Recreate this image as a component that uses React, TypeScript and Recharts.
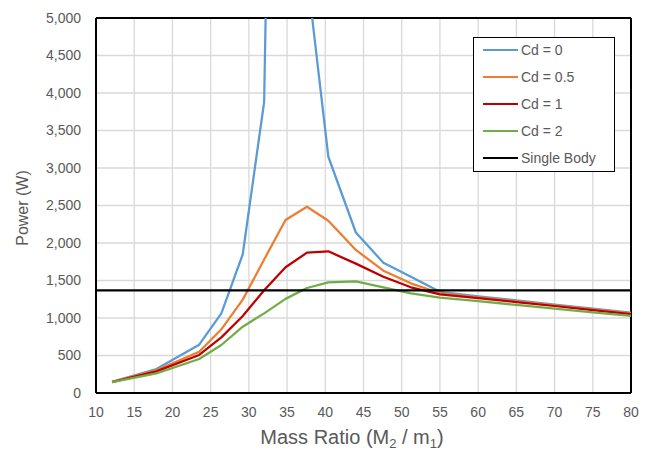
import React from 'react';
import { LineChart, Line, XAxis, YAxis, CartesianGrid, Legend, ReferenceLine } from 'recharts';

// Mass ratio (M2 / m1) sample points
const massRatio = [12.1, 17.9, 23.5, 26.4, 29.2, 32.0, 34.8, 37.6, 40.4, 44.0, 47.6, 51.2, 55, 60, 65, 70, 75, 80];
// Power (W) per drag coefficient
const cd0 = [150, 320, 644, 1062, 1850, 3880, 20000, 5600, 3150, 2140, 1737, 1551, 1350, 1290, 1235, 1180, 1125, 1070];
const cd05 = [148, 302, 551, 849, 1245, 1780, 2307, 2484, 2297, 1907, 1631, 1462, 1330, 1275, 1222, 1170, 1115, 1060];
const cd1 = [146, 289, 507, 742, 1027, 1370, 1676, 1871, 1889, 1725, 1551, 1409, 1316, 1265, 1212, 1160, 1105, 1052];
const cd2 = [144, 262, 453, 640, 884, 1062, 1255, 1400, 1476, 1489, 1409, 1329, 1271, 1225, 1175, 1125, 1075, 1027];
// Single body reference
const singleBodyX = [10, 80];
const singleBodyPower = 1370;

const xTicks = [10, 15, 20, 25, 30, 35, 40, 45, 50, 55, 60, 65, 70, 75, 80];
const yTicks = [0, 500, 1000, 1500, 2000, 2500, 3000, 3500, 4000, 4500, 5000];

const table = massRatio.map((m, i) => ({ m, cd0: cd0[i], cd05: cd05[i], cd1: cd1[i], cd2: cd2[i] }));
const singleData = singleBodyX.map((m) => ({ m, single: singleBodyPower }));

const FONT = '"Liberation Sans", Arial, sans-serif';
const TEXT = '#595959';

function LegendBox(props: any) {
  const payload = props.payload || [];
  return (
    <div
      style={{
        width: 142,
        height: 135,
        border: '1px solid #000',
        background: '#fff',
        boxSizing: 'border-box',
        position: 'relative',
        fontFamily: FONT,
      }}
    >
      {payload.map((p: any, i: number) => (
        <div
          key={i}
          style={{
            position: 'absolute',
            left: 9,
            top: 12 + 27 * i - 9,
            height: 18,
            display: 'flex',
            alignItems: 'center',
            whiteSpace: 'nowrap',
          }}
        >
          <div style={{ width: 35, height: 2, background: p.color }} />
          <span style={{ marginLeft: 3, fontSize: 14, color: TEXT }}>{p.value}</span>
        </div>
      ))}
    </div>
  );
}

const XTitle = () => (
  <text x={352} y={444} textAnchor="middle" fontSize={20} fill={TEXT} fontFamily={FONT}>
    Mass Ratio (M
    <tspan dy={4} fontSize={13}>2</tspan>
    <tspan dy={-4}> / m</tspan>
    <tspan dy={4} fontSize={13}>1</tspan>
    <tspan dy={-4}>)</tspan>
  </text>
);

const YTitle = () => (
  <text
    x={22}
    y={208}
    transform="rotate(-90 22 208)"
    textAnchor="middle"
    dominantBaseline="central"
    fontSize={16}
    fill={TEXT}
    fontFamily={FONT}
  >
    Power (W)
  </text>
);

export default function App() {
  return (
    <div style={{ position: 'absolute', left: 0, top: 0 }}>
      <LineChart
        width={653}
        height={450}
        data={table}
        margin={{ top: 18, right: 22, bottom: 0, left: 0 }}
      >
        <CartesianGrid stroke="#d9d9d9" strokeWidth={1.3} />
        <XAxis
          dataKey="m"
          type="number"
          domain={[10, 80]}
          ticks={xTicks}
          allowDataOverflow
          height={57}
          tickSize={0}
          tickMargin={14}
          tick={{ fontSize: 14, fill: TEXT, fontFamily: FONT }}
          axisLine={{ stroke: '#000', strokeWidth: 2 }}
          label={{ content: () => <XTitle /> }}
        />
        <YAxis
          type="number"
          domain={[0, 5000]}
          ticks={yTicks}
          allowDataOverflow
          width={96}
          tickSize={0}
          tickMargin={15}
          tick={{ fontSize: 14, fill: TEXT, fontFamily: FONT }}
          tickFormatter={(v: number) => v.toLocaleString('en-US')}
          axisLine={{ stroke: '#000', strokeWidth: 2 }}
          label={{ content: () => <YTitle /> }}
        />
        <ReferenceLine y={5000} stroke="#000" strokeWidth={2} />
        <ReferenceLine x={80} stroke="#000" strokeWidth={2} />
        <Line dataKey="cd0" name="Cd = 0" stroke="#5b9bd5" strokeWidth={2.25} dot={false} isAnimationActive={false} strokeLinejoin="round" />
        <Line dataKey="cd05" name="Cd = 0.5" stroke="#ed7d31" strokeWidth={2.25} dot={false} isAnimationActive={false} strokeLinejoin="round" />
        <Line dataKey="cd1" name="Cd = 1" stroke="#c00000" strokeWidth={2.25} dot={false} isAnimationActive={false} strokeLinejoin="round" />
        <Line dataKey="cd2" name="Cd = 2" stroke="#70ad47" strokeWidth={2.25} dot={false} isAnimationActive={false} strokeLinejoin="round" />
        <Line data={singleData} dataKey="single" name="Single Body" stroke="#000" strokeWidth={2.25} dot={false} isAnimationActive={false} />
        <Legend
          layout="vertical"
          align="center"
          verticalAlign="middle"
          wrapperStyle={{ left: 473, top: 37, width: 142, height: 135 }}
          content={(p: any) => <LegendBox payload={p.payload} />}
        />
      </LineChart>
    </div>
  );
}
